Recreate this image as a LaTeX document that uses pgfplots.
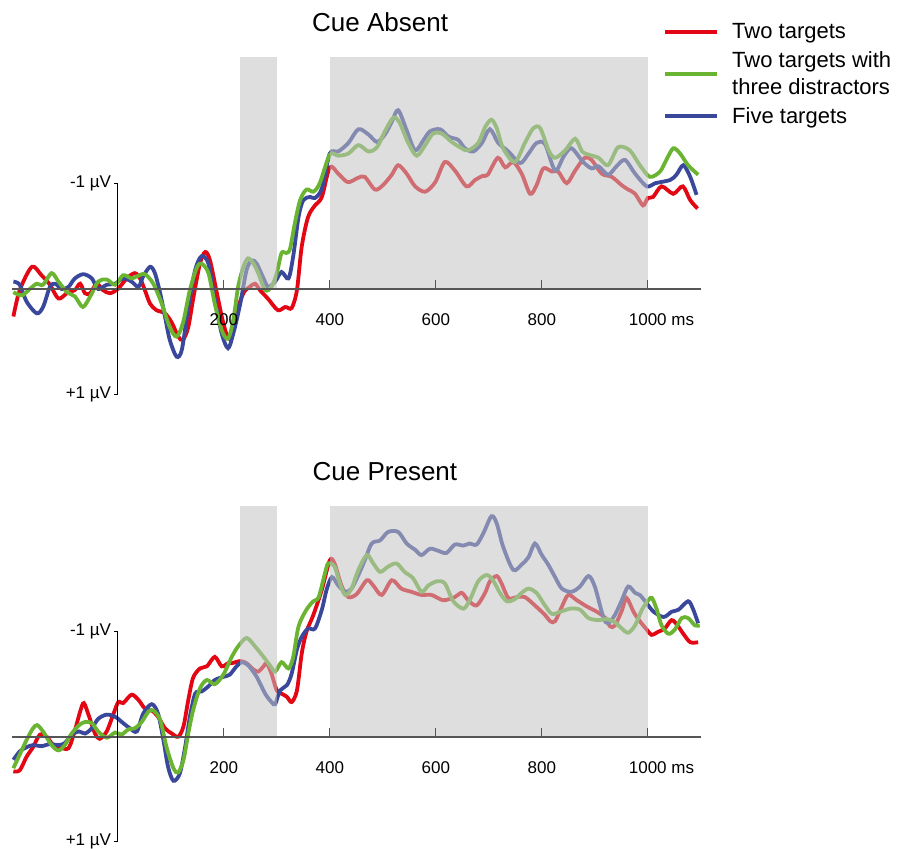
\documentclass[border=0pt]{standalone}
\usepackage{fontspec}
\setmainfont{Liberation Sans}
\usepackage{pgfplots}
\pgfplotsset{compat=1.18}
\definecolor{cred}{RGB}{227,6,19}
\definecolor{cgreen}{RGB}{106,180,50}
\definecolor{cblue}{RGB}{58,72,155}
\definecolor{shade}{RGB}{194,194,194}
\definecolor{axgray}{RGB}{85,85,85}
\pgfplotsset{erp/.style={
  scale only axis, width=689pt, xmin=-200, xmax=1100, ymin=-1, ymax=1, y dir=reverse,
  clip=false, axis on top,
  axis x line=middle, axis y line=middle,
  every inner x axis line/.append style={-},
  every inner y axis line/.append style={-},
  x axis line style={-, draw=axgray, line width=1.8pt},
  y axis line style={-, draw=black, line width=1.2pt},
  xtick={200,400,600,800,1000},
  xticklabels={200,400,600,800,{1000\rlap{~ms}}},
  ytick={-1,1}, yticklabels={-1 µV,+1 µV},
  tick align=outside,
  minor tick num=0,
  xtick style={draw=axgray, line width=1.2pt, /pgfplots/major tick length=9pt},
  ytick style={draw=black, line width=1.2pt, /pgfplots/major tick length=4pt},
  tick label style={font=\fontsize{17}{20}\selectfont},
  xticklabel style={yshift=-17pt},
  yticklabel style={xshift=1pt},
  rline/.style={cred, line width=3.8pt, smooth, forget plot},
  gline/.style={cgreen, line width=3.8pt, smooth, forget plot},
  bline/.style={cblue, line width=3.8pt, smooth, forget plot},
  shadeplot/.style={draw=none, fill=shade, fill opacity=0.55, forget plot},
}}
\begin{document}
\begin{tikzpicture}
\useasboundingbox (0,0) rectangle (898pt,849pt);
% ---------------- Cue Absent ----------------
\begin{axis}[erp, at={(11.8pt,454.2pt)}, anchor=south west, height=211.6pt,
  legend image code/.code={\draw[#1] (0pt,0pt) -- (52pt,0pt);},
  legend cell align=left,
  legend style={at={(0.9452,1.764)}, anchor=north west, draw=none, fill=none,
    inner sep=0pt, row sep=7pt, column sep=11pt,
    font=\fontsize{22}{27.5}\selectfont, cells={align=left}}]
\addlegendimage{cred, line width=4pt}
\addlegendentry{Two targets}
\addlegendimage{cgreen, line width=4pt}
\addlegendentry{Two targets with\\three distractors}
\addlegendimage{cblue, line width=4pt}
\addlegendentry{Five targets}
\addplot[rline] coordinates {(-197,0.26) (-185,0.01) (-162,-0.21) (-144,-0.13) (-128,-0.04) (-112,0.09) (-96,0.04) (-81,0.01) (-71,-0.05) (-62,0.04) (-52,0.04) (-40,-0.05) (-28,0.01) (-15,0.04) (0,0) (17,-0.1) (32,-0.15) (42,-0.1) (51,0.01) (61,0.14) (73,0.2) (89,0.23) (102,0.32) (114,0.45) (123,0.48) (133,0.36) (143,0.07) (155,-0.24) (165,-0.35) (174,-0.27) (187,0.04) (199,0.32) (210,0.47) (221,0.26) (237,0.04) (249,-0.02) (259,-0.05) (268,0.01) (283,0.09) (302,0.2) (316,0.17) (328,0.18) (338,0.01) (347,-0.4) (359,-0.68) (372,-0.79) (385,-0.87) (400,-1.15) (416,-1.09) (434,-1.01) (453,-1.05) (466,-1.06) (485,-0.94) (500,-0.98) (517,-1.08) (529,-1.17) (545,-1.09) (561,-0.97) (580,-0.92) (599,-1.01) (617,-1.2) (636,-1.12) (658,-0.97) (674,-1.03) (689,-1.07) (698,-1.08) (717,-1.24) (731,-1.15) (746,-1.2) (762,-1.09) (778,-0.9) (790,-0.98) (803,-1.14) (819,-1.11) (831,-1.11) (847,-1.0) (863,-1.12) (881,-1.24) (894,-1.22) (913,-1.09) (932,-1.06) (951,-0.98) (963,-0.94) (976,-0.9) (991,-0.79) (1000,-0.86) (1010,-0.87) (1026,-0.97) (1048,-0.9) (1066,-0.97) (1080,-0.84) (1094,-0.76)};
\addplot[bline] coordinates {(-197,-0.07) (-185,-0.04) (-172,0.12) (-153,0.23) (-141,0.17) (-128,-0.02) (-118,-0.05) (-106,0) (-93,-0.02) (-81,-0.1) (-65,-0.14) (-49,-0.1) (-37,0) (-21,-0.04) (-5,-0.05) (10,-0.1) (26,-0.07) (39,-0.02) (48,-0.12) (61,-0.21) (70,-0.15) (80,0.04) (89,0.26) (98,0.48) (111,0.64) (121,0.57) (133,0.17) (146,-0.18) (158,-0.31) (171,-0.24) (183,0.1) (196,0.42) (208,0.56) (218,0.42) (231,0.14) (243,-0.18) (253,-0.27) (262,-0.24) (275,-0.1) (284,-0.02) (297,-0.07) (309,-0.16) (322,-0.1) (331,-0.31) (341,-0.68) (350,-0.84) (363,-0.87) (372,-0.86) (385,-0.95) (400,-1.28) (416,-1.3) (435,-1.38) (454,-1.51) (473,-1.46) (489,-1.39) (504,-1.46) (517,-1.58) (529,-1.69) (545,-1.5) (561,-1.31) (577,-1.41) (589,-1.49) (608,-1.51) (624,-1.44) (642,-1.41) (655,-1.33) (671,-1.3) (687,-1.38) (702,-1.51) (718,-1.38) (737,-1.3) (759,-1.19) (775,-1.28) (790,-1.38) (806,-1.37) (825,-1.12) (841,-1.25) (856,-1.33) (878,-1.2) (894,-1.14) (907,-1.16) (925,-1.08) (941,-1.16) (957,-1.22) (976,-1.09) (998,-0.97) (1014,-1.0) (1042,-1.03) (1054,-1.08) (1067,-1.17) (1080,-1.06) (1092,-0.89)};
\addplot[gline] coordinates {(-197,0.03) (-181,0.06) (-166,0) (-153,-0.05) (-141,-0.04) (-125,-0.15) (-112,-0.07) (-96,0.03) (-81,0.07) (-66,0.17) (-52,0.07) (-37,-0.07) (-21,-0.09) (-5,-0.04) (10,-0.13) (26,-0.1) (36,-0.12) (51,-0.14) (67,-0.05) (83,0.14) (98,0.36) (111,0.45) (123,0.32) (136,0.01) (149,-0.2) (158,-0.24) (171,-0.15) (183,0.14) (196,0.39) (208,0.47) (218,0.29) (227,-0.02) (237,-0.21) (246,-0.29) (256,-0.24) (265,-0.15) (278,0.01) (290,-0.02) (300,-0.15) (309,-0.34) (318,-0.34) (325,-0.38) (334,-0.62) (344,-0.84) (356,-0.94) (369,-0.92) (381,-1.0) (400,-1.27) (416,-1.26) (435,-1.28) (454,-1.36) (473,-1.3) (489,-1.34) (504,-1.49) (520,-1.62) (532,-1.57) (548,-1.38) (564,-1.26) (580,-1.36) (595,-1.47) (611,-1.47) (630,-1.39) (649,-1.33) (661,-1.31) (680,-1.38) (693,-1.53) (705,-1.6) (715,-1.52) (727,-1.33) (749,-1.2) (768,-1.38) (784,-1.52) (797,-1.52) (813,-1.31) (825,-1.24) (844,-1.31) (863,-1.42) (876,-1.3) (888,-1.27) (907,-1.24) (925,-1.17) (944,-1.34) (966,-1.31) (985,-1.17) (1004,-1.06) (1023,-1.11) (1035,-1.22) (1048,-1.33) (1061,-1.28) (1076,-1.17) (1095,-1.08)};
\addplot[shadeplot] coordinates {(230,0) (230,-2.19) (300,-2.19) (300,0)} --cycle;
\addplot[shadeplot] coordinates {(400,0) (400,-2.19) (1000,-2.19) (1000,0)} --cycle;
\node[font=\fontsize{26}{30}\selectfont] at (axis cs:495,-2.52) {Cue Absent};
\end{axis}
% ---------------- Cue Present ----------------
\begin{axis}[erp, at={(11.8pt,7.3pt)}, anchor=south west, height=210pt]
\addplot[rline] coordinates {(-197,0.33) (-185,0.32) (-172,0.19) (-160,0.1) (-147,-0.02) (-134,0) (-122,0.08) (-109,0.1) (-93,0.11) (-81,-0.06) (-71,-0.24) (-64,-0.32) (-54,-0.19) (-43,-0.03) (-34,0.02) (-21,-0.05) (-8,-0.22) (1,-0.33) (10,-0.32) (26,-0.4) (39,-0.35) (51,-0.27) (64,-0.25) (76,-0.19) (89,-0.08) (102,-0.03) (114,0) (124,-0.1) (133,-0.35) (142,-0.56) (155,-0.65) (168,-0.67) (183,-0.76) (196,-0.67) (208,-0.7) (215,-0.7) (231,-0.72) (243,-0.7) (256,-0.64) (265,-0.62) (275,-0.67) (281,-0.7) (290,-0.6) (300,-0.44) (309,-0.41) (319,-0.38) (328,-0.33) (338,-0.44) (347,-0.79) (356,-1.0) (369,-1.16) (385,-1.4) (400,-1.68) (409,-1.65) (422,-1.44) (435,-1.33) (451,-1.36) (470,-1.49) (482,-1.44) (498,-1.35) (517,-1.49) (535,-1.41) (554,-1.38) (573,-1.35) (592,-1.35) (614,-1.3) (636,-1.33) (649,-1.37) (661,-1.3) (677,-1.25) (693,-1.37) (702,-1.48) (715,-1.53) (724,-1.46) (737,-1.32) (753,-1.33) (768,-1.33) (787,-1.25) (806,-1.16) (816,-1.1) (825,-1.1) (838,-1.24) (850,-1.35) (866,-1.3) (885,-1.24) (904,-1.19) (920,-1.13) (929,-1.05) (938,-1.06) (951,-1.2) (960,-1.32) (973,-1.19) (985,-1.1) (998,-1.02) (1007,-0.97) (1020,-1.0) (1032,-1.03) (1045,-1.11) (1056,-1.06) (1067,-0.98) (1080,-0.9) (1095,-0.9)};
\addplot[bline] coordinates {(-197,0.22) (-185,0.14) (-172,0.1) (-160,0.08) (-144,0.09) (-128,0.07) (-112,0.08) (-100,0.06) (-87,-0.02) (-73,-0.05) (-62,-0.03) (-49,-0.08) (-37,-0.17) (-21,-0.21) (-5,-0.19) (10,-0.13) (23,-0.08) (36,-0.05) (48,-0.22) (64,-0.31) (76,-0.22) (86,0.03) (95,0.29) (105,0.42) (117,0.35) (127,0.1) (136,-0.19) (146,-0.41) (158,-0.43) (171,-0.48) (183,-0.54) (199,-0.57) (211,-0.59) (224,-0.67) (234,-0.71) (246,-0.68) (262,-0.57) (278,-0.41) (290,-0.33) (297,-0.31) (306,-0.44) (319,-0.49) (328,-0.6) (338,-0.83) (347,-0.95) (359,-1.03) (372,-1.03) (385,-1.21) (394,-1.4) (404,-1.52) (416,-1.44) (429,-1.38) (441,-1.41) (454,-1.54) (466,-1.68) (479,-1.84) (495,-1.87) (510,-1.95) (529,-1.95) (545,-1.84) (561,-1.78) (573,-1.73) (589,-1.79) (605,-1.77) (620,-1.75) (636,-1.83) (652,-1.82) (664,-1.84) (677,-1.83) (690,-1.94) (705,-2.1) (715,-2.03) (727,-1.81) (746,-1.59) (762,-1.64) (775,-1.71) (787,-1.84) (800,-1.73) (812,-1.64) (825,-1.52) (838,-1.41) (856,-1.38) (872,-1.43) (888,-1.53) (900,-1.43) (916,-1.14) (925,-1.08) (938,-1.16) (951,-1.3) (963,-1.43) (976,-1.37) (985,-1.35) (998,-1.27) (1011,-1.19) (1030,-1.14) (1045,-1.19) (1058,-1.21) (1076,-1.29) (1085,-1.22) (1095,-1.08)};
\addplot[gline] coordinates {(-197,0.3) (-185,0.17) (-172,0.03) (-160,-0.08) (-152,-0.11) (-141,-0.05) (-125,0.08) (-112,0.13) (-100,0.08) (-87,-0.03) (-73,-0.11) (-62,-0.14) (-49,-0.13) (-37,-0.05) (-21,0.01) (-5,-0.04) (7,-0.02) (20,-0.07) (32,-0.08) (45,-0.14) (58,-0.24) (67,-0.25) (80,-0.16) (92,0.1) (105,0.3) (114,0.34) (124,0.22) (133,-0.03) (142,-0.25) (155,-0.46) (168,-0.54) (183,-0.5) (199,-0.59) (215,-0.76) (227,-0.86) (243,-0.94) (259,-0.86) (275,-0.76) (287,-0.68) (297,-0.62) (309,-0.71) (322,-0.65) (331,-0.76) (341,-1.05) (356,-1.21) (369,-1.29) (379,-1.33) (391,-1.56) (397,-1.65) (409,-1.62) (419,-1.46) (429,-1.35) (441,-1.41) (454,-1.59) (470,-1.73) (482,-1.65) (495,-1.57) (510,-1.62) (526,-1.65) (541,-1.57) (557,-1.51) (573,-1.38) (586,-1.44) (602,-1.48) (617,-1.46) (633,-1.29) (652,-1.22) (664,-1.3) (680,-1.48) (696,-1.54) (708,-1.49) (721,-1.37) (734,-1.29) (749,-1.31) (762,-1.37) (775,-1.41) (790,-1.37) (806,-1.25) (819,-1.17) (835,-1.19) (854,-1.22) (872,-1.21) (888,-1.13) (907,-1.11) (923,-1.12) (938,-1.09) (951,-1.03) (963,-0.99) (976,-1.06) (989,-1.21) (1001,-1.3) (1008,-1.32) (1017,-1.21) (1026,-1.06) (1039,-0.98) (1051,-1.02) (1064,-1.13) (1076,-1.13) (1089,-1.06) (1098,-1.06)};
\addplot[shadeplot] coordinates {(230,0) (230,-2.2) (300,-2.2) (300,0)} --cycle;
\addplot[shadeplot] coordinates {(400,0) (400,-2.2) (1000,-2.2) (1000,0)} --cycle;
\node[font=\fontsize{26}{30}\selectfont] at (axis cs:504,-2.53) {Cue Present};
\end{axis}
\end{tikzpicture}
\end{document}
